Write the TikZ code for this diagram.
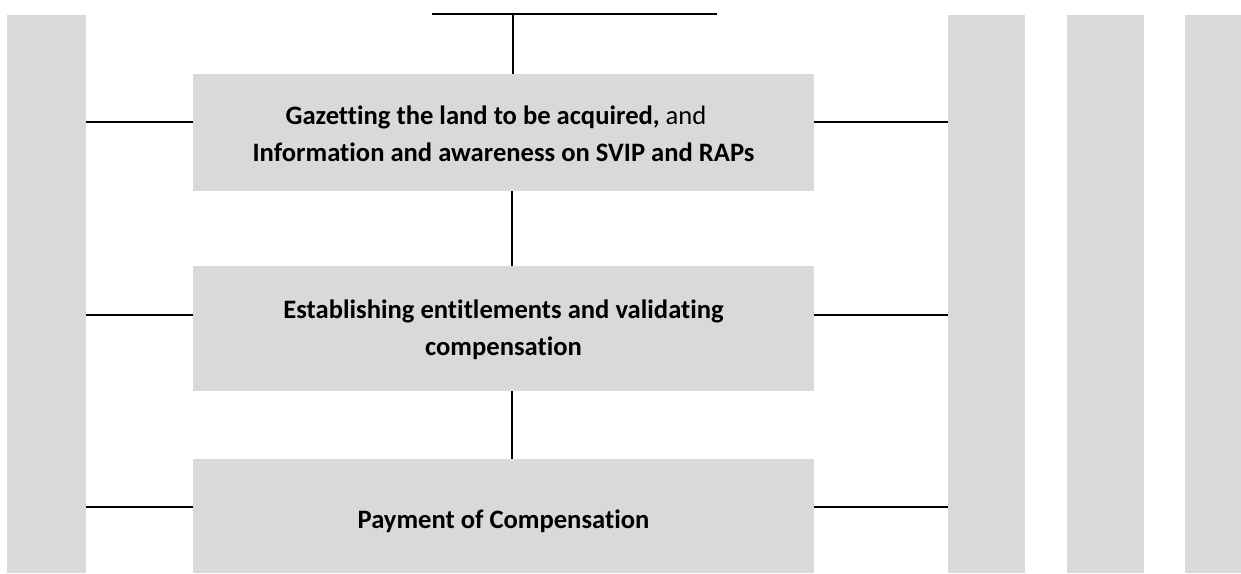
\documentclass[tikz,border=0pt]{standalone}
\usepackage{fontspec}
\setmainfont{Carlito}[Ligatures=NoCommon]
\definecolor{bargray}{HTML}{D9D9D9}
\tikzset{
  bar/.style={fill=bargray, draw=none, inner sep=0pt, anchor=north west},
  stepbox/.style={fill=bargray, draw=none, inner sep=0pt, anchor=north west, minimum width=621pt},
  steptext/.style={inner sep=0pt, anchor=base, text=black, font=\fontsize{26.6}{32}\selectfont\bfseries},
  conn/.style={line width=2pt, draw=black}
}
\begin{document}
\begin{tikzpicture}[x=1pt,y=-1pt]
\useasboundingbox (0,0) rectangle (1241,573);
% side bars
\node[bar, minimum width=79pt, minimum height=558pt] (L) at (7,15) {};
\node[bar, minimum width=77pt, minimum height=558pt] (R1) at (948,15) {};
\node[bar, minimum width=77pt, minimum height=558pt] (R2) at (1067,15) {};
\node[bar, minimum width=56pt, minimum height=558pt] (R3) at (1185,15) {};
% step boxes
\node[stepbox, minimum height=117pt] (b1) at (193,74) {};
\node[stepbox, minimum height=125pt] (b2) at (193,266) {};
\node[stepbox, minimum height=114pt] (b3) at (193,459) {};
% texts
\node[steptext] (t1a) at (496,124) {Gazetting the land to be acquired, \mdseries and};
\node[steptext] (t1b) at (503.5,161) {Information and awareness on SVIP and RAPs};
\node[steptext] (t2a) at (503.5,318) {Establishing entitlements and validating};
\node[steptext] (t2b) at (503.5,355) {compensation};
\node[steptext] (t3) at (503.5,528) {Payment of Compensation};
% top T connector
\coordinate (tl) at (432,14);
\coordinate (tr) at (717,14);
\coordinate (tj) at (513,14);
\draw[conn] (tl) -- (tr);
\draw[conn] (tj) -- (tj |- b1.north);
% vertical connectors
\coordinate (v) at (512,0);
\draw[conn] (v |- b1.south) -- (v |- b2.north);
\draw[conn] (v |- b2.south) -- (v |- b3.north);
% horizontal connectors
\coordinate (y1) at (0,122);
\coordinate (y2) at (0,315);
\coordinate (y3) at (0,507);
\draw[conn] (L.east |- y1) -- (b1.west |- y1);
\draw[conn] (b1.east |- y1) -- (R1.west |- y1);
\draw[conn] (L.east |- y2) -- (b2.west |- y2);
\draw[conn] (b2.east |- y2) -- (R1.west |- y2);
\draw[conn] (L.east |- y3) -- (b3.west |- y3);
\draw[conn] (b3.east |- y3) -- (R1.west |- y3);
\end{tikzpicture}
\end{document}
